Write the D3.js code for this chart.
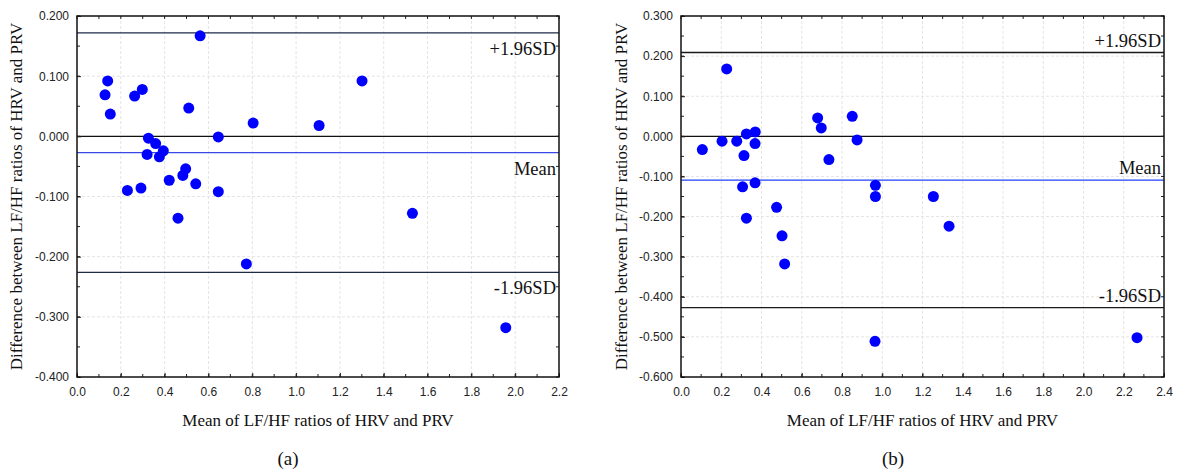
<!DOCTYPE html>
<html><head><meta charset="utf-8">
<script src="https://cdn.jsdelivr.net/npm/d3@7"></script>
<style>body{margin:0;background:#fff}</style>
</head><body>
<svg id="c" width="1177" height="469"></svg>
<script>
// Panel (a) data
const aMeanX = [0.562,0.140,0.128,0.152,0.263,0.298,0.510,0.804,0.645,0.326,0.359,0.320,0.394,0.376,0.496,0.483,0.421,0.542,0.230,0.292,0.645,0.461,0.773,1.105,1.301,1.531,1.957];
const aDiffY = [0.167,0.092,0.069,0.037,0.067,0.078,0.047,0.022,-0.001,-0.003,-0.012,-0.030,-0.024,-0.034,-0.054,-0.065,-0.073,-0.079,-0.090,-0.086,-0.092,-0.136,-0.212,0.018,0.092,-0.128,-0.318];
const aLimits = [0.172, -0.027, -0.226]; // +1.96SD, Mean, -1.96SD
const aXTicks = [0.0,0.2,0.4,0.6,0.8,1.0,1.2,1.4,1.6,1.8,2.0,2.2];
const aYTicks = [-0.4,-0.3,-0.2,-0.1,0.0,0.1,0.2];

// Panel (b) data
const bMeanX = [0.227,0.106,0.204,0.277,0.325,0.369,0.368,0.313,0.306,0.368,0.325,0.475,0.502,0.679,0.697,0.735,0.851,0.875,0.966,0.966,0.515,0.964,1.254,1.332,2.266];
const bDiffY = [0.168,-0.033,-0.012,-0.012,0.006,0.011,-0.018,-0.048,-0.126,-0.116,-0.204,-0.177,-0.248,0.046,0.021,-0.058,0.050,-0.009,-0.122,-0.150,-0.318,-0.511,-0.150,-0.224,-0.502];
const bLimits = [0.209, -0.109, -0.427];
const bXTicks = [0.0,0.2,0.4,0.6,0.8,1.0,1.2,1.4,1.6,1.8,2.0,2.2,2.4];
const bYTicks = [-0.6,-0.5,-0.4,-0.3,-0.2,-0.1,0.0,0.1,0.2,0.3];

const limitLabels = ["+1.96SD","Mean","-1.96SD"];
const xTitle = "Mean of LF/HF ratios of HRV and PRV";
const yTitle = "Difference between LF/HF ratios of HRV and PRV";

const svg = d3.select("#c");
const serif = "'Liberation Serif','Times New Roman',serif";
const sans = "'Liberation Sans',Arial,sans-serif";

function panel(cfg){
  const {left,right,top,bottom,xs,ys,xt,yt,lim,limCol,labelPos,cap,capX,yTitleX} = cfg;
  const x = d3.scaleLinear().domain([xt[0], xt[xt.length-1]]).range([left,right]);
  const y = d3.scaleLinear().domain([yt[0], yt[yt.length-1]]).range([bottom,top]);
  const g = svg.append("g");
  // grid
  g.selectAll(".gx").data(xt.slice(1,-1)).join("line")
    .attr("x1",d=>x(d)).attr("x2",d=>x(d)).attr("y1",top).attr("y2",bottom)
    .attr("stroke","#e4e4e4").attr("stroke-dasharray","3,2").attr("stroke-width",1);
  g.selectAll(".gy").data(yt.slice(1,-1)).join("line")
    .attr("y1",d=>y(d)).attr("y2",d=>y(d)).attr("x1",left).attr("x2",right)
    .attr("stroke","#e4e4e4").attr("stroke-dasharray","3,2").attr("stroke-width",1);
  // zero line
  g.append("line").attr("x1",left).attr("x2",right).attr("y1",y(0)).attr("y2",y(0))
    .attr("stroke","#111").attr("stroke-width",1.3);
  // limit lines
  lim.forEach((v,i)=>{
    g.append("line").attr("x1",left).attr("x2",right).attr("y1",y(v)).attr("y2",y(v))
      .attr("stroke",limCol[i]).attr("stroke-width",1.3);
    const below = labelPos[i]==="below";
    g.append("text").attr("x",right-3).attr("y",below? y(v)+22 : y(v)-6)
      .attr("text-anchor","end").attr("font-family",serif).attr("font-size",18.5)
      .attr("fill","#111").text(limitLabels[i]);
  });
  // axes with inward ticks
  const xMinor = d3.range(0, xt.length*2-1).map(i=>xt[0]+i*(xt[1]-xt[0])/2);
  const yMinor = d3.range(0, yt.length*2-1).map(i=>yt[0]+i*(yt[1]-yt[0])/2);
  const fmtY = d3.format(".3f");
  const fmtX = d3.format(".1f");
  const ax = d3.axisBottom(x).tickValues(xt).tickSize(-4).tickPadding(10).tickFormat(fmtX);
  const axg = g.append("g").attr("transform",`translate(0,${bottom})`).call(ax);
  const ay = d3.axisLeft(y).tickValues(yt).tickSize(-4).tickPadding(8).tickFormat(d=>fmtY(d).replace("−","-"));
  const ayg = g.append("g").attr("transform",`translate(${left},0)`).call(ay);
  [axg,ayg].forEach(a=>{
    a.select(".domain").remove();
    a.selectAll("text").attr("font-family",sans).attr("font-size",12).attr("fill","#222");
    a.selectAll("line").attr("stroke","#222");
  });
  // minor ticks on all sides
  const tk = (arr, fn) => g.append("g").selectAll("line").data(arr).join("line").each(fn).attr("stroke","#222").attr("stroke-width",1);
  tk(xMinor, function(d){ d3.select(this).attr("x1",x(d)).attr("x2",x(d)).attr("y1",top).attr("y2",top+3); });
  tk(yMinor, function(d){ d3.select(this).attr("y1",y(d)).attr("y2",y(d)).attr("x1",right).attr("x2",right-3); });
  tk(xMinor, function(d){ d3.select(this).attr("x1",x(d)).attr("x2",x(d)).attr("y1",bottom).attr("y2",bottom-3); });
  tk(yMinor, function(d){ d3.select(this).attr("y1",y(d)).attr("y2",y(d)).attr("x1",left).attr("x2",left+3); });
  // frame
  g.append("rect").attr("x",left).attr("y",top).attr("width",right-left).attr("height",bottom-top)
    .attr("fill","none").attr("stroke","#111").attr("stroke-width",1.5);
  // points
  g.selectAll("circle").data(xs.map((v,i)=>[v,ys[i]])).join("circle")
    .attr("cx",d=>x(d[0])).attr("cy",d=>y(d[1])).attr("r",5.5).attr("fill","#0000ff");
  // titles
  g.append("text").attr("x",(left+right)/2).attr("y",426).attr("text-anchor","middle")
    .attr("font-family",serif).attr("font-size",17).attr("fill","#111").text(xTitle);
  g.append("text").attr("transform",`translate(${yTitleX},${(top+bottom)/2}) rotate(-90)`)
    .attr("text-anchor","middle").attr("font-family",serif).attr("font-size",17).attr("fill","#111").text(yTitle);
  g.append("text").attr("x",capX).attr("y",465).attr("text-anchor","middle")
    .attr("font-family",serif).attr("font-size",19).attr("fill","#111").text(cap);
}

panel({left:77,right:559,top:16,bottom:377,xs:aMeanX,ys:aDiffY,xt:aXTicks,yt:aYTicks,lim:aLimits,
  limCol:["#1c2a48","#3848e8","#1c2a48"],labelPos:["below","below","below"],cap:"(a)",capX:288,yTitleX:22});
panel({left:681,right:1164,top:16,bottom:377,xs:bMeanX,ys:bDiffY,xt:bXTicks,yt:bYTicks,lim:bLimits,
  limCol:["#1a1a1a","#2040ff","#1a1a1a"],labelPos:["above","above","above"],cap:"(b)",capX:893,yTitleX:627});
</script>
</body></html>
